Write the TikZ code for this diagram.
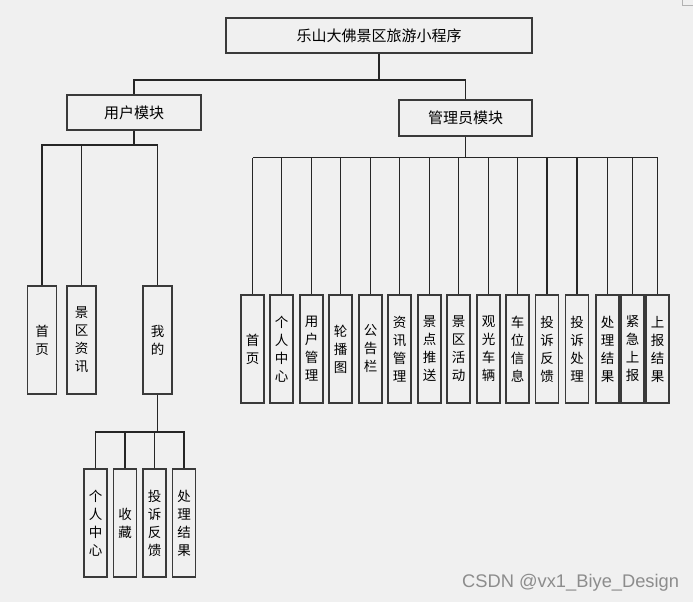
\documentclass[tikz,border=0pt]{standalone}
\usepackage{fontspec}
\newfontfamily\cjk{Noto Sans CJK SC}
\newfontfamily\wmfont{Liberation Sans}
\definecolor{bg}{HTML}{F0F0F0}
\definecolor{edge}{HTML}{3A3A3A}
\begin{document}
\begin{tikzpicture}[x=1pt,y=-1pt,
  hbox/.style={draw=edge,line width=1.2pt,rectangle,inner sep=0pt,font=\cjk\fontsize{15}{17}\selectfont},
  vbox/.style={draw=edge,line width=1.2pt,rectangle,inner sep=0pt,minimum height=108pt,align=center,font=\cjk\fontsize{13.5}{18}\selectfont},
  conn/.style={draw=black!85,line width=1.1pt}]
\fill[bg] (0,0) rectangle (693,602);
\useasboundingbox (0,0) rectangle (693,602);
\draw[black!30,line width=0.8pt] (682,0) -- (682,5) -- (693,5);
% top level
\node[hbox,minimum width=306pt,minimum height=35pt] (top) at (379,35.5) {乐山大佛景区旅游小程序};
\node[hbox,minimum width=134pt,minimum height=35pt] (user) at (134,112.5) {用户模块};
\node[hbox,minimum width=133pt,minimum height=36pt] (admin) at (465.5,118) {管理员模块};
\coordinate (busA) at (0,80);
\coordinate (busB) at (0,145);
\coordinate (busC) at (0,432);
\coordinate (busD) at (0,157.5);
\draw[conn] (top.south) -- (top.south |- busA);
\draw[conn] (user.north) |- (admin.north |- busA) -- (admin.north);
% user module
\node[vbox,minimum width=29pt] (u1) at (42,340) {首\\页};
\node[vbox,minimum width=29pt] (u2) at (81.5,340) {景\\区\\资\\讯};
\node[vbox,minimum width=29pt] (u3) at (157.5,340) {我\\的};
\draw[conn] (user.south) -- (user.south |- busB);
\draw[conn] (u1.north) |- (u3.north |- busB) -- (u3.north);
\draw[conn] (u2.north) -- (u2.north |- busB);
% my children
\node[vbox,minimum width=23pt] (m1) at (95.5,523) {个\\人\\中\\心};
\node[vbox,minimum width=23pt] (m2) at (125,523) {收\\藏};
\node[vbox,minimum width=23pt] (m3) at (154.5,523) {投\\诉\\反\\馈};
\node[vbox,minimum width=23pt] (m4) at (184,523) {处\\理\\结\\果};
\draw[conn] (u3.south) -- (u3.south |- busC);
\draw[conn] (m1.north) |- (m4.north |- busC) -- (m4.north);
\draw[conn] (m2.north) -- (m2.north |- busC);
\draw[conn] (m3.north) -- (m3.north |- busC);
% admin children
\foreach \i/\xx/\t in {1/252.5/首\\页, 2/281.5/个\\人\\中\\心, 3/311.5/用\\户\\管\\理, 4/340.5/轮\\播\\图,
  5/370.5/公\\告\\栏, 6/399.5/资\\讯\\管\\理, 7/429.5/景\\点\\推\\送, 8/458.5/景\\区\\活\\动,
  9/488.5/观\\光\\车\\辆, 10/517.5/车\\位\\信\\息, 11/547/投\\诉\\反\\馈, 12/577/投\\诉\\处\\理,
  13/607.5/处\\理\\结\\果, 14/632.5/紧\\急\\上\\报, 15/657.5/上\\报\\结\\果}{
  \node[vbox,minimum width=23pt] (a\i) at (\xx,349) {\t};
  \draw[conn] (a\i.north) -- (a\i.north |- busD);
}
\draw[conn] (admin.south) -- (admin.south |- busD);
\draw[conn] (a1.north |- busD) -- (a15.north |- busD);
% watermark
\node[font=\wmfont\fontsize{18.3}{20}\selectfont,text=black!45,anchor=west,inner sep=0pt] (wm) at (462,583) {CSDN @vx1\_Biye\_Design};
\end{tikzpicture}
\end{document}
